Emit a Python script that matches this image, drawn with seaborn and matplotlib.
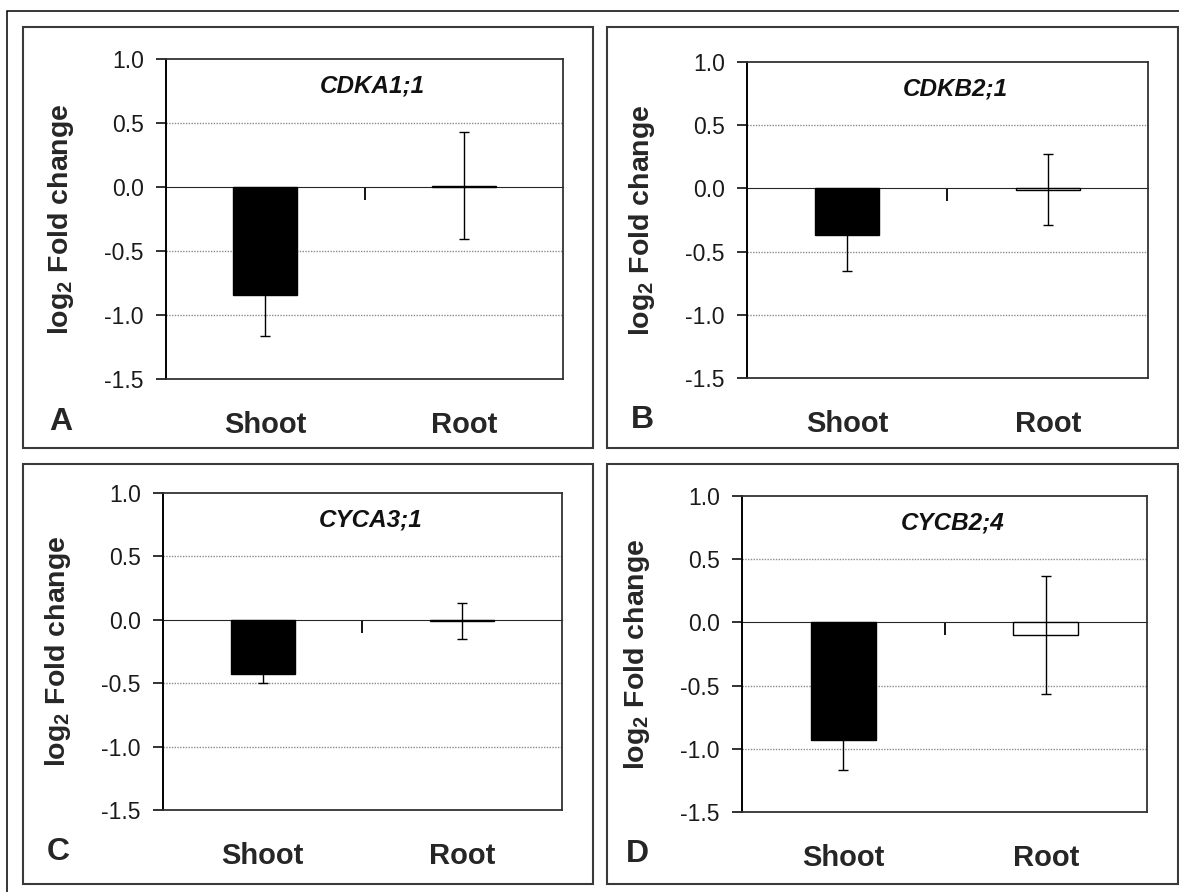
import matplotlib
matplotlib.use("Agg")
import matplotlib.pyplot as plt
import seaborn as sns
import pandas as pd
from matplotlib.patches import Rectangle

# values
genes = ["CDKA1;1", "CDKB2;1", "CYCA3;1", "CYCB2;4"]
panel_letters = ["A", "B", "C", "D"]
tissues = ["Shoot", "Root"]
shoot_mean = [-0.84, -0.37, -0.43, -0.93]
shoot_err = [0.325, 0.285, 0.07, 0.235]
root_mean = [0.01, -0.01, -0.01, -0.10]
root_err = [0.42, 0.28, 0.14, 0.47]
y_ticks = [1.0, 0.5, 0.0, -0.5, -1.0, -1.5]
grid_levels = [0.5, -0.5, -1.0]

W, H = 1179, 892

# layout in pixels: (left, top, right, bottom)
axes_px = [(166, 59, 563, 379), (747, 62, 1148, 378),
           (163, 493, 562, 810), (742, 496, 1147, 812)]
panel_px = [(23, 27, 593, 448), (607, 27, 1178, 448),
            (23, 464, 593, 884), (607, 464, 1178, 884)]

sns.set_style("white")
plt.rcParams["font.family"] = ["Liberation Sans", "DejaVu Sans"]
plt.rcParams["mathtext.default"] = "regular"
plt.rcParams["axes.unicode_minus"] = False


def to_fig(box):
    l, t, r, b = box
    return [l / W, 1 - b / H, (r - l) / W, (b - t) / H]


fig = plt.figure(figsize=(W / 100, H / 100), dpi=100)

# outer frame (runs off the right and bottom edges)
fig.add_artist(Rectangle((7 / W, -0.05), 1.1, 1 - 11 / H + 0.05, transform=fig.transFigure,
                         fill=False, ec="black", lw=1.1))
for box in panel_px:
    l, t, r, b = box
    fig.add_artist(Rectangle((l / W, 1 - b / H), (r - l) / W, (b - t) / H,
                             transform=fig.transFigure, fill=False, ec="#3a3a3a", lw=1.5))

ymin, ymax = y_ticks[-1], y_ticks[0]

for i, gene in enumerate(genes):
    l, t, r, b = axes_px[i]
    ax = fig.add_axes(to_fig(axes_px[i]))
    df = pd.DataFrame({"tissue": tissues, "log2fc": [shoot_mean[i], root_mean[i]]})

    for lvl in grid_levels:
        ax.axhline(lvl, color="#8c8c8c", lw=1.0, ls=(0, (1, 1)), zorder=1)

    sns.barplot(data=df, x="tissue", y="log2fc", hue="tissue",
                palette={"Shoot": "black", "Root": "white"}, edgecolor="black",
                linewidth=1.0, width=0.32, errorbar=None, legend=False, ax=ax, zorder=3)
    ax.errorbar(x=range(len(tissues)), y=df["log2fc"], yerr=[shoot_err[i], root_err[i]],
                fmt="none", ecolor="black", elinewidth=1.0, capsize=3.9, capthick=1.0, zorder=4)

    ax.set_xlim(-0.5, 1.5)
    ax.set_ylim(ymin, ymax)
    ax.set_yticks(y_ticks)
    ax.set_yticklabels([f"{v:.1f}" for v in y_ticks])
    ax.tick_params(axis="y", left=True, direction="out", length=7, width=1.3,
                   pad=9, labelsize=16.5, labelcolor="#1a1a1a", color="#222")
    ax.set_xticks(range(len(tissues)))
    ax.set_xticklabels(tissues)
    ax.tick_params(axis="x", bottom=False, length=0, pad=23, labelsize=21)
    for lbl in ax.get_xticklabels():
        lbl.set_fontweight("bold")
    ax.set_xlabel("")
    ax.set_ylabel("")

    for side in ["top", "right", "bottom"]:
        ax.spines[side].set_color("#333333")
        ax.spines[side].set_linewidth(1.3)
    ax.spines["left"].set_color("black")
    ax.spines["left"].set_linewidth(1.4)

    # x axis line at zero with the divider tick between categories
    zero_ax = ax.secondary_xaxis((0 - ymin) / (ymax - ymin))
    zero_ax.xaxis.set_ticks_position("bottom")
    zero_ax.set_xticks([0.5])
    zero_ax.set_xticklabels([])
    zero_ax.tick_params(axis="x", which="both", top=False, bottom=True, direction="out",
                        length=9, width=1.3, color="black")
    zero_ax.spines["bottom"].set_color("black")
    zero_ax.spines["bottom"].set_linewidth(1.4)

    w_px, h_px = r - l, b - t
    ax.text(0.52, 0.915, gene, transform=ax.transAxes, ha="center", va="center",
            fontsize=17.5, fontweight="bold", fontstyle="italic", color="#111")
    ax.text(-105 / w_px, 0.5, "log$_2$ Fold change", transform=ax.transAxes, rotation=90,
            ha="center", va="center", fontsize=20.5, fontweight="bold")
    ax.text(-105 / w_px, -42.5 / h_px, panel_letters[i], transform=ax.transAxes, ha="center",
            va="center", fontsize=23, fontweight="bold")

fig.savefig("out.png", dpi=100)
